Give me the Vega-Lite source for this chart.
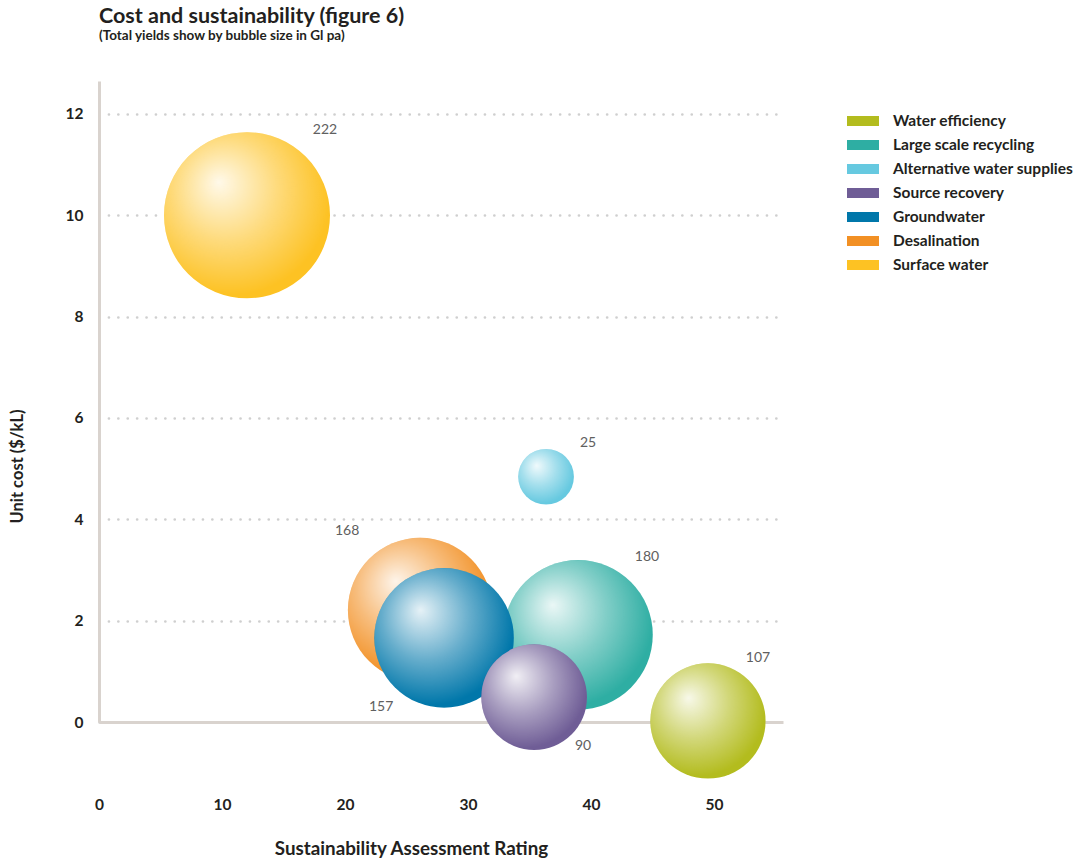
{
  "$schema": "https://vega.github.io/schema/vega-lite/v6.json",
  "width": 684,
  "height": 641,
  "autosize": {"type": "none"},
  "padding": {"left": 99, "top": 81, "right": 302, "bottom": 139},
  "background": "white",
  "title": {
    "text": "Cost and sustainability (figure 6)",
    "subtitle": "(Total yields show by bubble size in Gl pa)",
    "anchor": "start",
    "frame": "group",
    "font": "Lato",
    "fontSize": 21.5,
    "fontWeight": "bold",
    "color": "#231f20",
    "subtitleFont": "Lato",
    "subtitleFontSize": 13.5,
    "subtitleFontWeight": "bold",
    "subtitleColor": "#231f20",
    "subtitlePadding": 1,
    "offset": 39
  },
  "config": {"view": {"stroke": null}},
  "data": {
    "values": [
      {"source": "Surface water", "rating": 12.03, "cost": 10.0, "yield": 222},
      {"source": "Alternative water supplies", "rating": 36.34, "cost": 4.84, "yield": 25},
      {"source": "Large scale recycling", "rating": 38.94, "cost": 1.72, "yield": 180},
      {"source": "Desalination", "rating": 26.1, "cost": 2.21, "yield": 168},
      {"source": "Groundwater", "rating": 28.05, "cost": 1.66, "yield": 157},
      {"source": "Source recovery", "rating": 35.37, "cost": 0.49, "yield": 90},
      {"source": "Water efficiency", "rating": 49.5, "cost": 0.02, "yield": 107}
    ]
  },
  "encoding": {
    "x": {
      "field": "rating",
      "type": "quantitative",
      "scale": {"domain": [0, 55.6], "nice": false, "zero": false},
      "axis": {
        "values": [0, 10, 20, 30, 40, 50],
        "title": "Sustainability Assessment Rating",
        "grid": false,
        "ticks": false,
        "domainColor": "#d9d3ce",
        "domainWidth": 3,
        "labelFont": "Lato",
        "labelFontSize": 15.5,
        "labelFontWeight": "bold",
        "labelColor": "#231f20",
        "labelPadding": 82,
        "labelBaseline": "middle",
        "labelFlush": false,
        "labelOverlap": false,
        "titleFont": "Lato",
        "titleFontSize": 18.8,
        "titleFontWeight": "bold",
        "titleColor": "#231f20",
        "titleX": 312,
        "titleY": 126,
        "titleBaseline": "middle",
        "titleAlign": "center"
      }
    },
    "y": {
      "field": "cost",
      "type": "quantitative",
      "scale": {"domain": [0, 12.65], "nice": false, "zero": false},
      "axis": {
        "values": [0, 2, 4, 6, 8, 10, 12],
        "title": "Unit cost ($/kL)",
        "grid": true,
        "gridDash": [0.1, 9.3],
        "gridCap": "round",
        "gridWidth": 2.6,
        "gridColor": "#cfcfcf",
        "ticks": false,
        "domainColor": "#d9d3ce",
        "domainWidth": 3,
        "labelFont": "Lato",
        "labelFontSize": 15.5,
        "labelFontWeight": "bold",
        "labelColor": "#231f20",
        "labelPadding": 16,
        "titleFont": "Lato",
        "titleFontSize": 16.5,
        "titleFontWeight": "bold",
        "titleColor": "#231f20",
        "titleX": -82,
        "titleY": 385,
        "titleAngle": 270,
        "titleBaseline": "middle",
        "titleAlign": "center"
      }
    },
    "size": {
      "field": "yield",
      "type": "quantitative",
      "scale": {"domain": [0, 222], "range": [0, 27556], "nice": false, "zero": true},
      "legend": null
    }
  },
  "layer": [
    {
      "transform": [{"filter": "datum.source === 'Surface water'"}],
      "layer": [
        {"mark": {"type": "circle", "opacity": 1, "clip": false},
         "encoding": {"color": {"field": "source", "type": "nominal",
           "scale": {"domain": ["Water efficiency", "Large scale recycling", "Alternative water supplies", "Source recovery", "Groundwater", "Desalination", "Surface water"],
                     "range": ["#b3bc1e", "#2eaea3", "#66c9e0", "#6f5d96", "#0077aa", "#f29024", "#fdc223"]},
           "legend": {"orient": "none", "legendX": 752, "legendY": 28, "title": null,
             "symbolType": "M-1.333,-0.4167H1.333V0.4167H-1.333Z", "symbolSize": 576, "symbolStrokeWidth": 0, "symbolOpacity": 1,
             "labelFont": "Lato", "labelFontSize": 15.5, "labelFontWeight": "bold", "labelColor": "#231f20", "labelOffset": 18, "labelLimit": 400, "rowPadding": 3}}}},
        {"mark": {"type": "circle", "opacity": 1, "clip": false,
          "fill": {"gradient": "radial", "x1": 0.33, "y1": 0.3, "r1": 0, "x2": 0.42, "y2": 0.4, "r2": 0.7,
            "stops": [{"offset": 0, "color": "rgba(255,255,255,0.9)"}, {"offset": 0.45, "color": "rgba(255,255,255,0.4)"}, {"offset": 0.85, "color": "rgba(255,255,255,0)"}]}}},
        {"mark": {"type": "text", "font": "Lato", "color": "#606060", "dx": 78, "dy": -85, "align": "center", "baseline": "middle"},
         "encoding": {"text": {"field": "yield"}, "size": {"value": 14}}}
      ]
    },
    {
      "transform": [{"filter": "datum.source === 'Alternative water supplies'"}],
      "layer": [
        {"mark": {"type": "circle", "opacity": 1, "clip": false},
         "encoding": {"color": {"field": "source", "type": "nominal",
           "scale": {"domain": ["Water efficiency", "Large scale recycling", "Alternative water supplies", "Source recovery", "Groundwater", "Desalination", "Surface water"],
                     "range": ["#b3bc1e", "#2eaea3", "#66c9e0", "#6f5d96", "#0077aa", "#f29024", "#fdc223"]}}}},
        {"mark": {"type": "circle", "opacity": 1, "clip": false,
          "fill": {"gradient": "radial", "x1": 0.33, "y1": 0.3, "r1": 0, "x2": 0.42, "y2": 0.4, "r2": 0.7,
            "stops": [{"offset": 0, "color": "rgba(255,255,255,0.9)"}, {"offset": 0.45, "color": "rgba(255,255,255,0.4)"}, {"offset": 0.85, "color": "rgba(255,255,255,0)"}]}}},
        {"mark": {"type": "text", "font": "Lato", "color": "#606060", "dx": 42, "dy": -34, "align": "center", "baseline": "middle"},
         "encoding": {"text": {"field": "yield"}, "size": {"value": 14}}}
      ]
    },
    {
      "transform": [{"filter": "datum.source === 'Large scale recycling'"}],
      "layer": [
        {"mark": {"type": "circle", "opacity": 1, "clip": false},
         "encoding": {"color": {"field": "source", "type": "nominal",
           "scale": {"domain": ["Water efficiency", "Large scale recycling", "Alternative water supplies", "Source recovery", "Groundwater", "Desalination", "Surface water"],
                     "range": ["#b3bc1e", "#2eaea3", "#66c9e0", "#6f5d96", "#0077aa", "#f29024", "#fdc223"]}}}},
        {"mark": {"type": "circle", "opacity": 1, "clip": false,
          "fill": {"gradient": "radial", "x1": 0.33, "y1": 0.3, "r1": 0, "x2": 0.42, "y2": 0.4, "r2": 0.7,
            "stops": [{"offset": 0, "color": "rgba(255,255,255,0.9)"}, {"offset": 0.45, "color": "rgba(255,255,255,0.4)"}, {"offset": 0.85, "color": "rgba(255,255,255,0)"}]}}},
        {"mark": {"type": "text", "font": "Lato", "color": "#606060", "dx": 69, "dy": -78, "align": "center", "baseline": "middle"},
         "encoding": {"text": {"field": "yield"}, "size": {"value": 14}}}
      ]
    },
    {
      "transform": [{"filter": "datum.source === 'Desalination'"}],
      "layer": [
        {"mark": {"type": "circle", "opacity": 1, "clip": false},
         "encoding": {"color": {"field": "source", "type": "nominal",
           "scale": {"domain": ["Water efficiency", "Large scale recycling", "Alternative water supplies", "Source recovery", "Groundwater", "Desalination", "Surface water"],
                     "range": ["#b3bc1e", "#2eaea3", "#66c9e0", "#6f5d96", "#0077aa", "#f29024", "#fdc223"]}}}},
        {"mark": {"type": "circle", "opacity": 1, "clip": false,
          "fill": {"gradient": "radial", "x1": 0.33, "y1": 0.3, "r1": 0, "x2": 0.42, "y2": 0.4, "r2": 0.7,
            "stops": [{"offset": 0, "color": "rgba(255,255,255,0.9)"}, {"offset": 0.45, "color": "rgba(255,255,255,0.4)"}, {"offset": 0.85, "color": "rgba(255,255,255,0)"}]}}},
        {"mark": {"type": "text", "font": "Lato", "color": "#606060", "dx": -73, "dy": -79, "align": "center", "baseline": "middle"},
         "encoding": {"text": {"field": "yield"}, "size": {"value": 14}}}
      ]
    },
    {
      "transform": [{"filter": "datum.source === 'Groundwater'"}],
      "layer": [
        {"mark": {"type": "circle", "opacity": 1, "clip": false},
         "encoding": {"color": {"field": "source", "type": "nominal",
           "scale": {"domain": ["Water efficiency", "Large scale recycling", "Alternative water supplies", "Source recovery", "Groundwater", "Desalination", "Surface water"],
                     "range": ["#b3bc1e", "#2eaea3", "#66c9e0", "#6f5d96", "#0077aa", "#f29024", "#fdc223"]}}}},
        {"mark": {"type": "circle", "opacity": 1, "clip": false,
          "fill": {"gradient": "radial", "x1": 0.33, "y1": 0.3, "r1": 0, "x2": 0.42, "y2": 0.4, "r2": 0.7,
            "stops": [{"offset": 0, "color": "rgba(255,255,255,0.9)"}, {"offset": 0.45, "color": "rgba(255,255,255,0.4)"}, {"offset": 0.85, "color": "rgba(255,255,255,0)"}]}}},
        {"mark": {"type": "text", "font": "Lato", "color": "#606060", "dx": -63, "dy": 69, "align": "center", "baseline": "middle"},
         "encoding": {"text": {"field": "yield"}, "size": {"value": 14}}}
      ]
    },
    {
      "transform": [{"filter": "datum.source === 'Source recovery'"}],
      "layer": [
        {"mark": {"type": "circle", "opacity": 1, "clip": false},
         "encoding": {"color": {"field": "source", "type": "nominal",
           "scale": {"domain": ["Water efficiency", "Large scale recycling", "Alternative water supplies", "Source recovery", "Groundwater", "Desalination", "Surface water"],
                     "range": ["#b3bc1e", "#2eaea3", "#66c9e0", "#6f5d96", "#0077aa", "#f29024", "#fdc223"]}}}},
        {"mark": {"type": "circle", "opacity": 1, "clip": false,
          "fill": {"gradient": "radial", "x1": 0.33, "y1": 0.3, "r1": 0, "x2": 0.42, "y2": 0.4, "r2": 0.7,
            "stops": [{"offset": 0, "color": "rgba(255,255,255,0.9)"}, {"offset": 0.45, "color": "rgba(255,255,255,0.4)"}, {"offset": 0.85, "color": "rgba(255,255,255,0)"}]}}},
        {"mark": {"type": "text", "font": "Lato", "color": "#606060", "dx": 49, "dy": 49, "align": "center", "baseline": "middle"},
         "encoding": {"text": {"field": "yield"}, "size": {"value": 14}}}
      ]
    },
    {
      "transform": [{"filter": "datum.source === 'Water efficiency'"}],
      "layer": [
        {"mark": {"type": "circle", "opacity": 1, "clip": false},
         "encoding": {"color": {"field": "source", "type": "nominal",
           "scale": {"domain": ["Water efficiency", "Large scale recycling", "Alternative water supplies", "Source recovery", "Groundwater", "Desalination", "Surface water"],
                     "range": ["#b3bc1e", "#2eaea3", "#66c9e0", "#6f5d96", "#0077aa", "#f29024", "#fdc223"]}}}},
        {"mark": {"type": "circle", "opacity": 1, "clip": false,
          "fill": {"gradient": "radial", "x1": 0.33, "y1": 0.3, "r1": 0, "x2": 0.42, "y2": 0.4, "r2": 0.7,
            "stops": [{"offset": 0, "color": "rgba(255,255,255,0.9)"}, {"offset": 0.45, "color": "rgba(255,255,255,0.4)"}, {"offset": 0.85, "color": "rgba(255,255,255,0)"}]}}},
        {"mark": {"type": "text", "font": "Lato", "color": "#606060", "dx": 50, "dy": -63, "align": "center", "baseline": "middle"},
         "encoding": {"text": {"field": "yield"}, "size": {"value": 14}}}
      ]
    }
  ]
}
